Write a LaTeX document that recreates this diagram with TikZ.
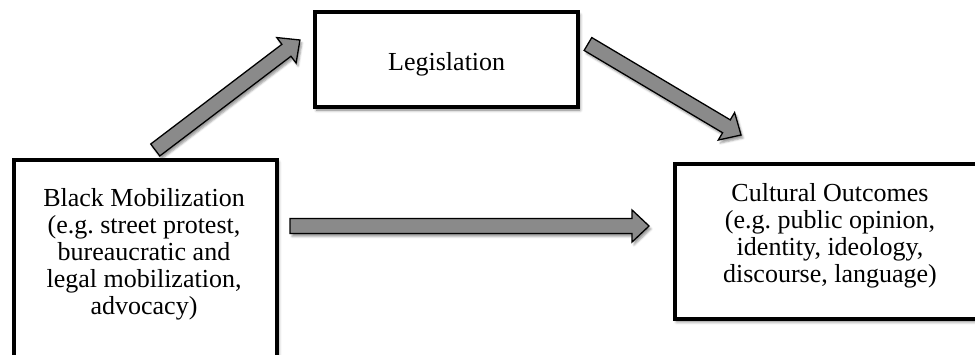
\documentclass[tikz,border=0pt]{standalone}
\usepackage{fontspec}
\setmainfont{Liberation Serif}
\usepackage{xcolor}
\usepackage{tikz}
\usetikzlibrary{calc,shadows.blur}
\frenchspacing

\definecolor{arrowgray}{RGB}{138,138,138}

% wide grey arrow with black outline, from #1 to #2
\newcommand{\blockarrow}[2]{%
  \coordinate (ba-h) at ($(#2)!17pt!(#1)$);
  \draw[bigarrow] ($(#1)!7.5pt!90:(#2)$) -- ($(ba-h)!7.5pt!90:(#2)$)
    -- ($(ba-h)!16pt!90:(#2)$) -- (#2) -- ($(ba-h)!16pt!-90:(#2)$)
    -- ($(ba-h)!7.5pt!-90:(#2)$) -- ($(#1)!7.5pt!-90:(#2)$) -- cycle;}

\begin{document}
\begin{tikzpicture}[x=1pt,y=-1pt,
  box/.style={draw,line width=4pt,fill=white,inner sep=0pt,
    blur shadow={shadow xshift=2pt,shadow yshift=-3pt,shadow opacity=50,shadow blur radius=3pt}},
  txt/.style={align=center,inner sep=0pt,anchor=base,
    font=\fontsize{26}{27}\selectfont},
  bigarrow/.style={draw=black,line width=1.3pt,fill=arrowgray,line join=miter,
    blur shadow={shadow xshift=2pt,shadow yshift=-3pt,shadow opacity=40,shadow blur radius=2pt}}]
  \useasboundingbox (0,0) rectangle (975,354);

  \node[box,minimum width=262.5pt,minimum height=210.5pt] (mob) at (145.25,264.75) {};
  \node[box,minimum width=263.3pt,minimum height=95pt]    (leg) at (446.3,59.5) {};
  \node[box,minimum width=310.3pt,minimum height=155pt]   (out) at (829.9,241.2) {};

  % base = baseline of the last line
  \node[txt] (mobtxt) at (144,314) {Black Mobilization\\(e.g. street protest,\\bureaucratic and\\legal mobilization,\\advocacy)};
  \node[txt] (legtxt) at (446.7,70.7) {Legislation};
  \node[txt] (outtxt) at (830,282) {Cultural Outcomes\\(e.g. public opinion,\\identity, ideology,\\discourse, language)};

  % arrow ends
  \coordinate (up1) at ($(mob.north)+(10,-7.5)$);
  \coordinate (up2) at ($(leg.west)+(-12.7,-19.5)$);
  \coordinate (dn1) at ($(leg.east)+(8,-15.5)$);
  \coordinate (dn2) at ($(out.north west)+(68.3,-26.7)$);
  \coordinate (hz1) at ($(mob.east)+(11.5,-38.75)$);
  \coordinate (hz2) at ($(out.west)+(-23.7,-15.2)$);

  \blockarrow{up1}{up2}
  \blockarrow{dn1}{dn2}
  \blockarrow{hz1}{hz2}
\end{tikzpicture}
\end{document}
